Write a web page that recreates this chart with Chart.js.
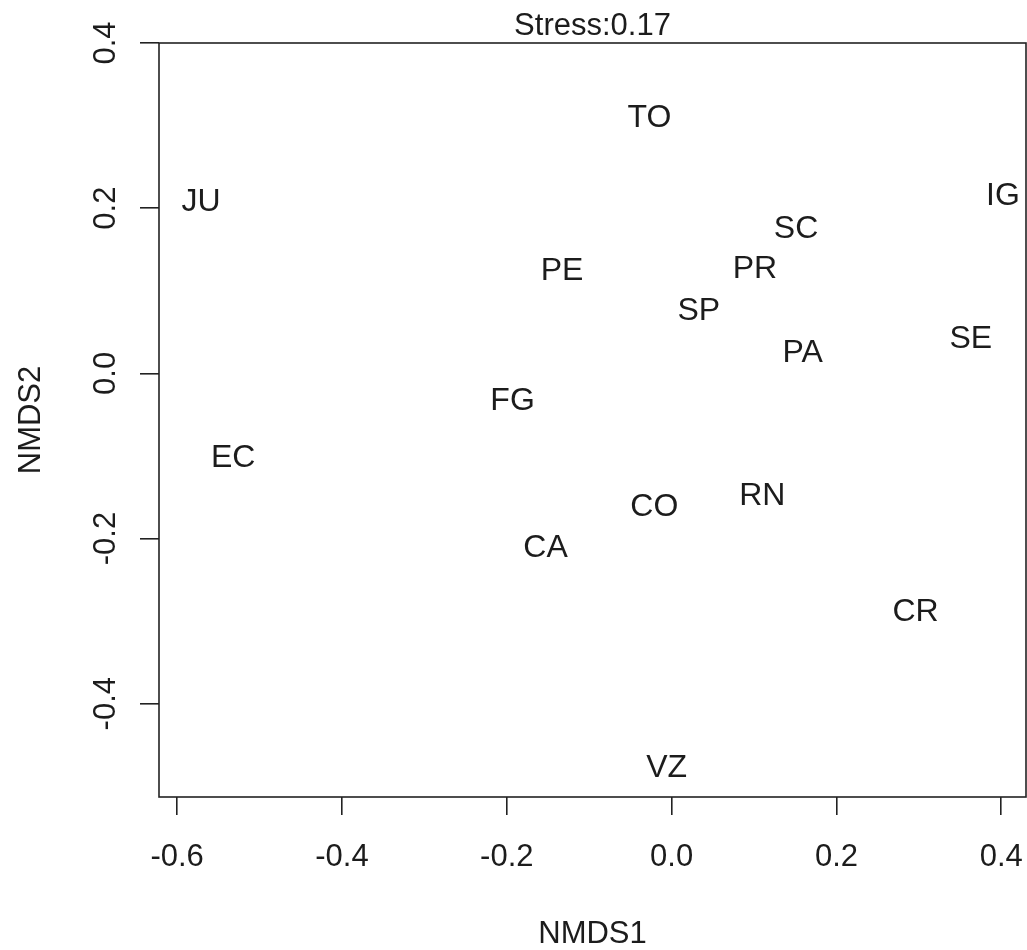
<!DOCTYPE html>
<html>
<head>
<meta charset="utf-8">
<title>NMDS ordination</title>
<script src="https://cdn.jsdelivr.net/npm/chart.js@4/dist/chart.umd.min.js"></script>
<style>
  html, body { margin: 0; padding: 0; background: #ffffff; }
  #wrap { width: 1027px; height: 950px; position: relative; }
</style>
</head>
<body>
<div id="wrap"><canvas id="ord" width="1027" height="950"></canvas></div>
<script>
// Site scores on the first two NMDS axes
const sites = ['TO', 'JU', 'IG', 'SC', 'PE', 'PR', 'SP', 'SE', 'PA', 'FG', 'EC', 'CO', 'RN', 'CA', 'CR', 'VZ'];
const nmds1 = [-0.027, -0.571, 0.402, 0.151, -0.133, 0.101, 0.033, 0.363, 0.159, -0.193, -0.532, -0.021, 0.110, -0.153, 0.296, -0.006];
const nmds2 = [0.312, 0.211, 0.218, 0.178, 0.127, 0.129, 0.079, 0.044, 0.027, -0.031, -0.099, -0.159, -0.145, -0.208, -0.286, -0.475];

// Axis ticks and annotation
const xTicks = [-0.6, -0.4, -0.2, 0.0, 0.2, 0.4];
const yTicks = [-0.4, -0.2, 0.0, 0.2, 0.4];
const stress = 0.17;
const xTitle = 'NMDS1';
const yTitle = 'NMDS2';

const FONT = '"Liberation Sans", Arial, sans-serif';
const INK = '#1c1c1c';
const LINE = '#222222';

function fontPx(px) { return px + 'px ' + FONT; }

// Box around the plotting region (all four sides)
const boxPlugin = {
  id: 'plotBox',
  afterDraw(chart) {
    const { ctx, chartArea: a } = chart;
    ctx.save();
    ctx.strokeStyle = LINE;
    ctx.lineWidth = 1.6;
    ctx.strokeRect(a.left, a.top, a.right - a.left, a.bottom - a.top);
    ctx.restore();
  }
};

// Tick labels, axis titles and the stress note
const textPlugin = {
  id: 'axisText',
  afterDraw(chart) {
    const { ctx, chartArea: a } = chart;
    const xs = chart.scales.x, ys = chart.scales.y;
    const size = 31, cap = size * 0.716;
    ctx.save();
    ctx.fillStyle = INK;
    ctx.font = fontPx(size);
    ctx.textAlign = 'center';
    ctx.textBaseline = 'alphabetic';

    xTicks.forEach(v => {
      ctx.fillText(v.toFixed(1), xs.getPixelForValue(v), 866);
    });
    yTicks.forEach(v => {
      ctx.save();
      ctx.translate(115, ys.getPixelForValue(v));
      ctx.rotate(-Math.PI / 2);
      ctx.fillText(v.toFixed(1), 0, 0);
      ctx.restore();
    });

    const midX = (a.left + a.right) / 2;
    const midY = (a.top + a.bottom) / 2;
    ctx.fillText(xTitle, midX, 943);
    ctx.save();
    ctx.translate(40, midY);
    ctx.rotate(-Math.PI / 2);
    ctx.fillText(yTitle, 0, 0);
    ctx.restore();

    ctx.fillText('Stress:' + stress.toFixed(2), midX, 35);
    ctx.restore();
  }
};

// Site names written at each ordination score
const siteLabels = {
  id: 'siteLabels',
  afterDatasetsDraw(chart) {
    const { ctx } = chart;
    const meta = chart.getDatasetMeta(0);
    const size = 32, cap = size * 0.716;
    ctx.save();
    ctx.fillStyle = INK;
    ctx.font = fontPx(size);
    ctx.textAlign = 'center';
    ctx.textBaseline = 'alphabetic';
    meta.data.forEach((pt, i) => {
      ctx.fillText(sites[i], pt.x, pt.y + cap / 2);
    });
    ctx.restore();
  }
};

const points = sites.map((s, i) => ({ x: nmds1[i], y: nmds2[i] }));

new Chart(document.getElementById('ord'), {
  type: 'scatter',
  data: {
    datasets: [{
      label: 'sites',
      data: points,
      pointRadius: 0,
      pointHoverRadius: 0,
      borderWidth: 0
    }]
  },
  options: {
    responsive: false,
    animation: false,
    events: [],
    layout: { autoPadding: false, padding: { top: 43, right: 1, bottom: 0, left: 0 } },
    plugins: {
      legend: { display: false },
      tooltip: { enabled: false },
      title: { display: false }
    },
    scales: {
      x: {
        type: 'linear',
        position: 'bottom',
        min: -0.622,
        max: 0.430,
        afterBuildTicks(s) { s.ticks = xTicks.map(v => ({ value: v })); },
        afterFit(s) { s.height = 153; },
        ticks: { display: false },
        border: { display: false },
        grid: {
          display: true,
          drawOnChartArea: false,
          drawTicks: true,
          tickLength: 18,
          tickColor: LINE,
          tickWidth: 1.6,
          color: LINE,
          lineWidth: 1.6
        }
      },
      y: {
        type: 'linear',
        position: 'left',
        min: -0.513,
        max: 0.400,
        afterBuildTicks(s) { s.ticks = yTicks.map(v => ({ value: v })); },
        afterFit(s) { s.width = 159; },
        ticks: { display: false },
        border: { display: false },
        grid: {
          display: true,
          drawOnChartArea: false,
          drawTicks: true,
          tickLength: 19,
          tickColor: LINE,
          tickWidth: 1.6,
          color: LINE,
          lineWidth: 1.6
        }
      }
    }
  },
  plugins: [boxPlugin, textPlugin, siteLabels]
});
</script>
</body>
</html>
